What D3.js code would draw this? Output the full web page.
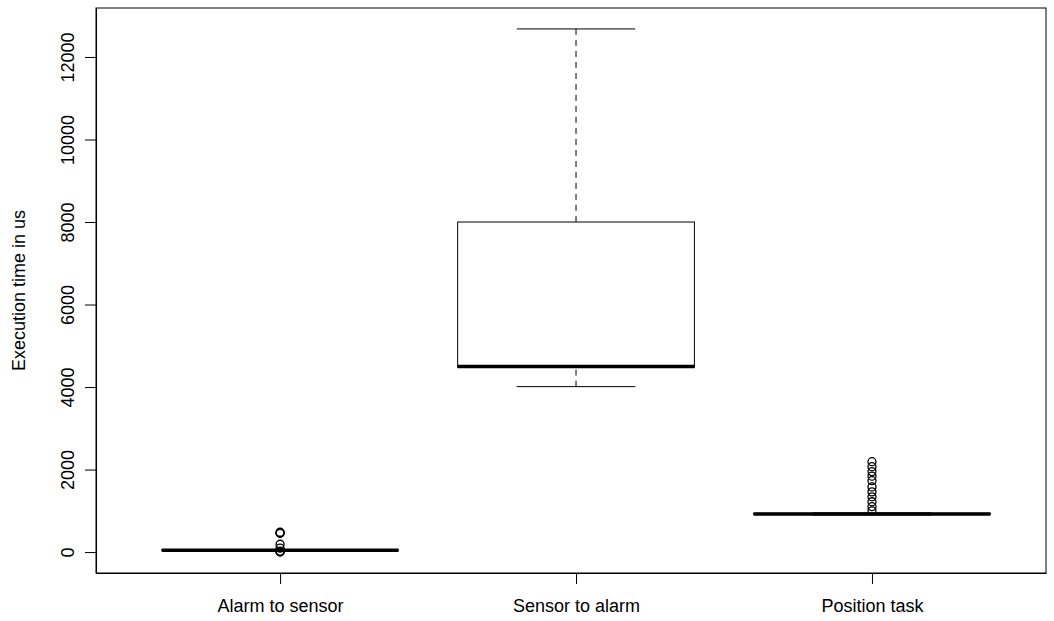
<!DOCTYPE html>
<html>
<head>
<meta charset="utf-8">
<script src="https://cdn.jsdelivr.net/npm/d3@7"></script>
<style>
    body { margin: 0; background: #ffffff; }
    text { font-family: "Liberation Sans", Arial, sans-serif; }
</style>
</head>
<body>
<div id="grafBoxplot"></div>
<script>
// categories + five number summaries
const groups = ["Alarm to sensor", "Sensor to alarm", "Position task"];
const whiskerLow = [30, 4010, 900];
const quartile1 = [40, 4480, 910];
const medians = [45, 4500, 925];
const quartile3 = [50, 8000, 940];
const whiskerHigh = [60, 12680, 950];
const outliers = [
    [480, 465, 455, 190, 95, 25, 10, 0],
    [],
    [2190, 2070, 1950, 1840, 1730, 1580, 1460, 1340, 1220, 1100, 1000]
];
const yTicks = [0, 2000, 4000, 6000, 8000, 10000, 12000];
const yTitle = "Execution time in us";

let svgBox;
let canvasWidth, canvasHeight, plotLeft, plotRight, plotTop, plotBottom;

window.addEventListener("load", function () {
    graficoBoxplot();
});

function graficoBoxplot() {
    canvasWidth = 1054;
    canvasHeight = 621;
    plotLeft = 96;
    plotRight = 1046;
    plotTop = 8;
    plotBottom = 573;

    svgBox = d3.select("#grafBoxplot")
        .append("svg")
        .attr("width", canvasWidth)
        .attr("height", canvasHeight);

    // x scale works like R: group i sits at i, box is 0.8 wide
    const xScale = d3.scaleLinear()
        .domain([0.378, 3.588])
        .range([plotLeft, plotRight]);
    const unit = xScale(2) - xScale(1);
    const halfBox = unit * 0.4;

    // y scale padded 4% each side (yaxs = "r")
    const allValues = whiskerLow.concat(whiskerHigh, outliers.flat());
    const yMin = d3.min(allValues), yMax = d3.max(allValues);
    const pad = (yMax - yMin) * 0.04;
    const yScale = d3.scaleLinear()
        .domain([yMin - pad, yMax + pad])
        .range([plotBottom, plotTop]);

    // Y AXIS
    const yAxis = svgBox.append("g")
        .attr("transform", `translate(${plotLeft}, 0)`)
        .call(d3.axisLeft(yScale).tickValues(yTicks).tickSize(11).tickSizeOuter(0).tickFormat(d3.format("d")));
    yAxis.select(".domain").attr("stroke", "#000").attr("stroke-width", 1);
    yAxis.selectAll(".tick line").attr("stroke", "#000");
    yAxis.selectAll(".tick text")
        .attr("x", null).attr("dy", null)
        .attr("transform", "translate(-22, 0) rotate(-90)")
        .attr("text-anchor", "middle")
        .style("font-size", "18px")
        .style("font-family", "Liberation Sans, Arial, sans-serif")
        .attr("fill", "#000");

    // X AXIS
    const xAxis = svgBox.append("g")
        .attr("transform", `translate(0, ${plotBottom})`)
        .call(d3.axisBottom(xScale).tickValues([1, 2, 3]).tickSize(11).tickSizeOuter(0).tickFormat((d, i) => groups[i]));
    xAxis.select(".domain").attr("stroke", "#000");
    xAxis.selectAll(".tick line").attr("stroke", "#000");
    xAxis.selectAll(".tick text")
        .attr("y", 39).attr("dy", null)
        .style("font-size", "18px")
        .style("font-family", "Liberation Sans, Arial, sans-serif")
        .attr("fill", "#000");

    // axis title
    svgBox.append("text")
        .attr("transform", `translate(25, ${(plotTop + plotBottom) / 2}) rotate(-90)`)
        .attr("text-anchor", "middle")
        .style("font-size", "18px")
        .text(yTitle);

    // boxes
    groups.forEach((g, i) => {
        const cx = xScale(i + 1);
        const grp = svgBox.append("g").attr("class", "box-" + i);

        // whiskers (dashed)
        grp.append("line")
            .attr("x1", cx).attr("x2", cx)
            .attr("y1", yScale(whiskerHigh[i])).attr("y2", yScale(quartile3[i]))
            .attr("stroke", "#000").attr("stroke-dasharray", "6,5");
        grp.append("line")
            .attr("x1", cx).attr("x2", cx)
            .attr("y1", yScale(whiskerLow[i])).attr("y2", yScale(quartile1[i]))
            .attr("stroke", "#000").attr("stroke-dasharray", "6,5");

        // staples, half box width
        [whiskerLow[i], whiskerHigh[i]].forEach(v => {
            grp.append("line")
                .attr("x1", cx - halfBox / 2).attr("x2", cx + halfBox / 2)
                .attr("y1", yScale(v)).attr("y2", yScale(v))
                .attr("stroke", "#000");
        });

        grp.append("rect")
            .attr("x", cx - halfBox)
            .attr("y", yScale(quartile3[i]))
            .attr("width", halfBox * 2)
            .attr("height", yScale(quartile1[i]) - yScale(quartile3[i]))
            .attr("fill", "#fff")
            .attr("stroke", "#000");

        // median thick line
        grp.append("line")
            .attr("x1", cx - halfBox).attr("x2", cx + halfBox)
            .attr("y1", yScale(medians[i])).attr("y2", yScale(medians[i]))
            .attr("stroke", "#000").attr("stroke-width", 3.5);

        grp.selectAll("circle")
            .data(outliers[i])
            .join("circle")
            .attr("cx", cx)
            .attr("cy", d => yScale(d))
            .attr("r", 4)
            .attr("fill", "none")
            .attr("stroke", "#000")
            .attr("stroke-width", 1.3);
    });

    // frame round the plot region
    svgBox.append("rect")
        .attr("x", plotLeft)
        .attr("y", plotTop)
        .attr("width", plotRight - plotLeft)
        .attr("height", plotBottom - plotTop)
        .attr("fill", "none")
        .attr("stroke", "#000");
}
</script>
</body>
</html>
